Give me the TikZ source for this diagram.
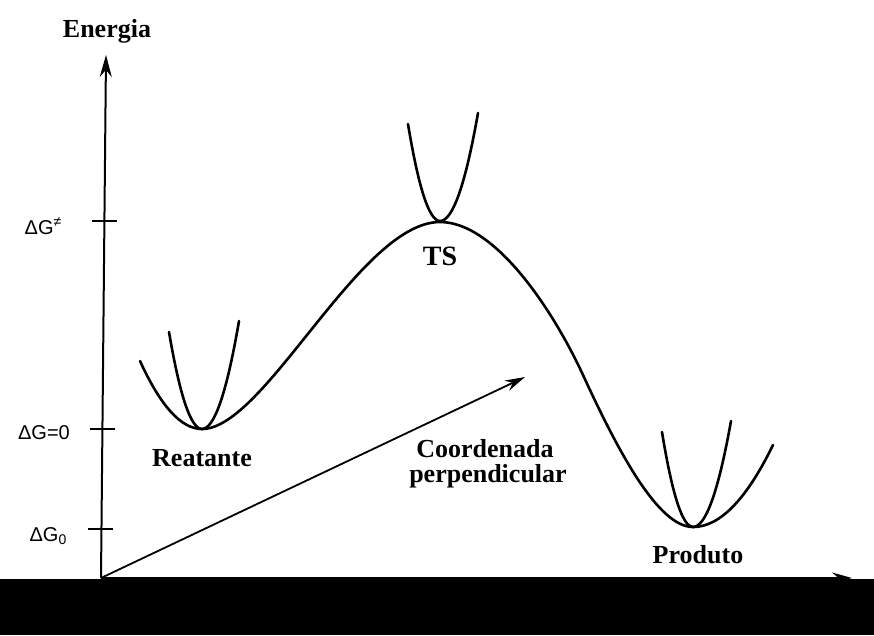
\documentclass[tikz,border=0pt]{standalone}
\usepackage{fontspec}
\setmainfont{Liberation Serif}
\newfontfamily\labsf{Liberation Sans}
\usetikzlibrary{arrows.meta}
\begin{document}
\begin{tikzpicture}[x=1pt,y=-1pt,
  curve/.style={line width=2.6pt,line cap=round,line join=round},
  axisline/.style={line width=2pt},
  tickline/.style={line width=2pt},
  bigtext/.style={font=\fontsize{26}{28}\selectfont\bfseries,inner sep=0pt,anchor=base},
  glabel/.style={font=\labsf\fontsize{20}{22}\selectfont,inner sep=0pt,anchor=base east}]
\useasboundingbox (0,0) rectangle (874,635);
\fill[white] (0,0) rectangle (874,635);
% axes
\coordinate (origin) at (101,578);
\coordinate (ytop) at (106,55);
\coordinate (xend) at (852,578);
\coordinate (perp) at (525,377);
\draw[axisline,-{Stealth[length=22pt,width=12pt]}] (origin) -- (ytop);
\draw[axisline,-{Stealth[length=20pt,width=11pt]}] (origin) -- (xend);
\draw[line width=1.8pt,-{Stealth[length=20pt,width=11pt]}] (origin) -- (perp);
% ticks
\draw[tickline] (92,221) -- (117,221);
\draw[tickline] (90,429) -- (115,429);
\draw[tickline] (88,529) -- (113,529);
\node[glabel] (gts) at (62,234) {ΔG\textsuperscript{≠}};
\node[glabel] (g0) at (70,439) {ΔG=0};
\node[glabel] (gp) at (67,541) {ΔG\textsubscript{0}};
% main energy curve
\draw[curve] (140,361) .. controls (160.7,406.3) and (181.3,429) .. (202,429)
  .. controls (265,429) and (360,222) .. (440,222)
  .. controls (495,222) and (553,310) .. (583,375)
  .. controls (618,451) and (658,527) .. (693,527)
  .. controls (719.7,527) and (746.3,499.7) .. (773,445);
% reactant narrow parabola
\draw[curve] (169,332) .. controls (180,396.7) and (191,429) .. (202,429)
  .. controls (214.3,429) and (226.7,393) .. (239,321);
% TS parabola
\draw[curve] (408,124) .. controls (418.7,188.7) and (429.3,221) .. (440,221)
  .. controls (452.7,221) and (465.3,185) .. (478,113);
% product narrow parabola
\draw[curve] (662,432) .. controls (672.3,495.3) and (682.7,527) .. (693,527)
  .. controls (705.7,527) and (718.3,491.7) .. (731,421);
% labels
\node[bigtext] (energia) at (107,37) {Energia};
\node[bigtext] (reat) at (202,466) {Reatante};
\node[bigtext] (prod) at (698,563) {Produto};
\node[bigtext,font=\fontsize{28}{30}\selectfont\bfseries] (ts) at (440,265) {TS};
\node[bigtext] (coord) at (485,457) {Coordenada};
\node[bigtext] (perpl) at (488,482) {perpendicular};
% bottom band
\fill[black] (0,578.5) rectangle (874,635);
\end{tikzpicture}
\end{document}
